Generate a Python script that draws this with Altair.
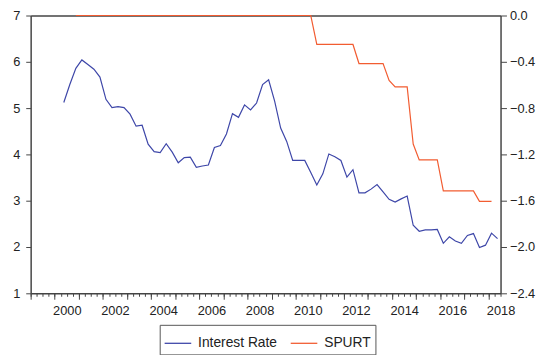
import altair as alt
import pandas as pd

# Interest rate: quarterly, 2000Q2 .. 2018Q2
ir_start_year = 2000
ir_start_quarter = 2
interest_rate = [5.12, 5.51, 5.86, 6.04, 5.94, 5.84, 5.67, 5.19, 5.01, 5.03,
                 5.01, 4.87, 4.61, 4.63, 4.22, 4.06, 4.04, 4.23, 4.05, 3.82,
                 3.93, 3.94, 3.72, 3.75, 3.77, 4.15, 4.19, 4.44, 4.88, 4.80,
                 5.07, 4.96, 5.11, 5.51, 5.61, 5.15, 4.57, 4.28, 3.87, 3.87,
                 3.87, 3.61, 3.34, 3.58, 4.01, 3.95, 3.87, 3.51, 3.67, 3.17,
                 3.17, 3.25, 3.35, 3.19, 3.03, 2.97, 3.04, 3.10, 2.47, 2.34,
                 2.37, 2.37, 2.38, 2.08, 2.22, 2.13, 2.08, 2.25, 2.29, 1.99,
                 2.04, 2.30, 2.18]

# SPURT: step series (break points, quarterly)
spurt_quarters = ["2000Q4", "2010Q3", "2010Q4", "2012Q2", "2012Q3", "2013Q3",
                  "2013Q4", "2014Q1", "2014Q3", "2014Q4", "2015Q1", "2015Q4",
                  "2016Q1", "2017Q2", "2017Q3", "2018Q1"]
spurt_values = [0.0, 0.0, -0.25, -0.25, -0.415, -0.415,
                -0.56, -0.617, -0.617, -1.11, -1.248, -1.248,
                -1.515, -1.515, -1.606, -1.606]

series_names = ["Interest Rate", "SPURT"]
series_colors = ["#3d46a8", "#f25c31"]

left_ticks = [1, 2, 3, 4, 5, 6, 7]
right_ticks = [0.0, -0.4, -0.8, -1.2, -1.6, -2.0, -2.4]


def qpos(label):
    y, q = label.split("Q")
    return int(y) + (int(q) - 1) * 0.25 + 0.125


ir_labels = []
y, q = ir_start_year, ir_start_quarter
for _ in interest_rate:
    ir_labels.append(f"{y}Q{q}")
    q += 1
    if q > 4:
        q, y = 1, y + 1

ir_df = pd.DataFrame({"t": [qpos(l) for l in ir_labels], "v": interest_rate,
                      "series": series_names[0]})
sp_df = pd.DataFrame({"t": [qpos(l) for l in spurt_quarters], "v": spurt_values,
                      "series": series_names[1]})

quarter_ticks = [1999 + 0.25 * i for i in range(79)]
year_ticks = list(range(1999, 2019))
x_scale = alt.Scale(domain=[1999, 2018.5], nice=False, zero=False)
color = alt.Color("series:N",
                  scale=alt.Scale(domain=series_names, range=series_colors),
                  legend=alt.Legend(orient="none", legendX=131, legendY=314,
                                    direction="horizontal", title=None,
                                    symbolType="stroke", symbolSize=729,
                                    symbolStrokeWidth=1.3,
                                    labelFont="Liberation Sans", labelFontSize=14,
                                    labelColor="#222",
                                    strokeColor="#555", padding=4,
                                    columnPadding=10, labelOffset=6))

FONT = "Liberation Sans"
FRAME = "#444"

# top frame line (drawn as an axis domain so that the lines lie above it)
frame_top = alt.Chart(sp_df).mark_line(strokeOpacity=0).encode(
    x=alt.X("t:Q", scale=x_scale,
            axis=alt.Axis(orient="top", title=None, grid=False, ticks=False,
                          labels=False, domain=True, domainColor=FRAME,
                          domainWidth=1.5)),
    y=alt.Y("v:Q", scale=alt.Scale(domain=[-2.4, 0.0], nice=False, zero=False),
            axis=None),
)

ir_line = alt.Chart(ir_df).mark_line(strokeWidth=1.2).encode(
    x=alt.X("t:Q", scale=x_scale,
            axis=alt.Axis(values=quarter_ticks, title=None, grid=False, orient="bottom",
                          labelExpr="datum.value % 2 == 0.5 ? '' + floor(datum.value) : ''",
                          labelOverlap=False, labelFlush=False, labelBound=False,
                          tickSize=3, tickColor=FRAME, domainColor=FRAME, domainWidth=1.5,
                          labelFont=FONT, labelFontSize=13, labelColor="#222",
                          labelPadding=9)),
    y=alt.Y("v:Q", scale=alt.Scale(domain=[1, 7], nice=False, zero=False),
            axis=alt.Axis(values=left_ticks, title=None, grid=False, orient="left",
                          tickSize=5, tickColor=FRAME, domainColor=FRAME, domainWidth=1.5,
                          labelFont=FONT, labelFontSize=13, labelColor="#222",
                          labelPadding=6, labelFlush=False, labelBound=False)),
    color=color,
)

sp_line = alt.Chart(sp_df).mark_line(strokeWidth=1.2).encode(
    x=alt.X("t:Q", scale=x_scale,
            axis=alt.Axis(values=year_ticks, title=None, grid=False, orient="bottom",
                          labels=False, tickSize=6, tickColor=FRAME, domain=False)),
    y=alt.Y("v:Q", scale=alt.Scale(domain=[-2.4, 0.0], nice=False, zero=False),
            axis=alt.Axis(values=right_ticks, title=None, grid=False, orient="right",
                          format=".1f", tickSize=6, tickColor=FRAME,
                          domainColor=FRAME, domainWidth=1.5,
                          labelFont=FONT, labelFontSize=13, labelColor="#222",
                          labelPadding=3, labelFlush=False, labelBound=False)),
    color=color,
)

chart = alt.layer(ir_line, sp_line, frame_top).resolve_scale(y="independent").resolve_axis(
    x="independent").properties(
    width=477, height=282,
    autosize=alt.AutoSizeParams(type="none"),
    padding={"left": 23, "top": 5, "right": 37, "bottom": 60},
    background="white",
).configure_view(strokeWidth=0)

chart.save("out.html", embed_options={"renderer": "svg", "actions": False})
